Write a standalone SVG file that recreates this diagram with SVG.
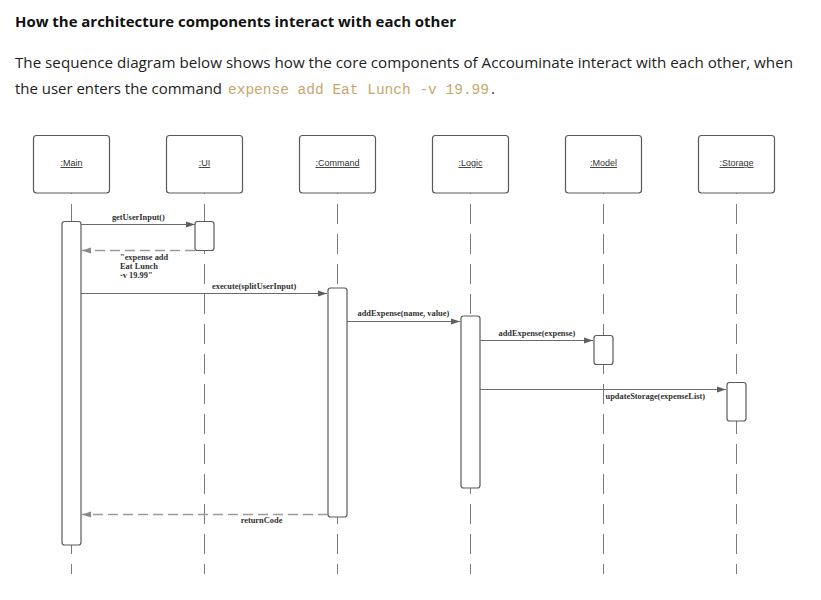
<svg xmlns="http://www.w3.org/2000/svg" width="821" height="600" viewBox="0 0 821 600">
<defs>
<style>
.h{font-family:"Open Sans","Liberation Sans",sans-serif;font-weight:bold;font-size:15px;fill:#111}
.p{font-family:"Open Sans","Liberation Sans",sans-serif;font-size:15px;fill:#222}
.code{font-family:"Liberation Mono",monospace;font-size:14.5px;fill:#c8a86e}
.box{fill:#fff;stroke:#5a5a5a;stroke-width:1.2}
.act{fill:#fff;stroke:#5a5a5a;stroke-width:1.2}
.bl{font-family:"Liberation Sans",Arial,sans-serif;font-size:9px;fill:#333;text-decoration:underline;text-anchor:middle}
.life{stroke:#7a7a7a;stroke-width:1;stroke-dasharray:20 10;stroke-dashoffset:10;fill:none}
.msg{stroke:#6b6b6b;stroke-width:1.2;fill:none}
.ret{stroke:#9a9a9a;stroke-width:1.6;stroke-dasharray:10 5;fill:none}
.ml{font-family:"Liberation Serif","Times New Roman",serif;font-weight:bold;font-size:8.4px;fill:#333}
</style>
<marker id="ah" markerWidth="10" markerHeight="8" refX="9" refY="4" orient="auto" markerUnits="userSpaceOnUse">
<path d="M0,1 L9,4 L0,7 Z" fill="#5f5f5f"/>
</marker>
<marker id="ahr" markerWidth="10" markerHeight="8" refX="9" refY="4" orient="auto" markerUnits="userSpaceOnUse">
<path d="M0,1 L9,4 L0,7 Z" fill="#8a8a8a"/>
</marker>
</defs>
<rect width="821" height="600" fill="#fff"/>
<text class="h" x="15" y="27" textLength="441" lengthAdjust="spacingAndGlyphs">How the architecture components interact with each other</text>
<text class="p" x="15" y="68" textLength="778" lengthAdjust="spacingAndGlyphs">The sequence diagram below shows how the core components of Accouminate interact with each other, when</text>
<text class="p" x="15" y="94" textLength="207" lengthAdjust="spacingAndGlyphs">the user enters the command</text>
<text class="code" x="228" y="94" textLength="261" lengthAdjust="spacingAndGlyphs">expense add Eat Lunch -v 19.99</text>
<text class="p" x="491" y="94">.</text>

<g id="lifelines">
<line class="life" x1="71.5" y1="574" x2="71.5" y2="193"/>
<line class="life" x1="204.5" y1="574" x2="204.5" y2="193"/>
<line class="life" x1="337.5" y1="574" x2="337.5" y2="193"/>
<line class="life" x1="470.5" y1="574" x2="470.5" y2="193"/>
<line class="life" x1="603.5" y1="574" x2="603.5" y2="193"/>
<line class="life" x1="736.5" y1="574" x2="736.5" y2="193"/>
</g>

<g id="main">
<rect class="box" x="33.5" y="135.5" width="76" height="57.5" rx="3"/>
<text class="bl" x="71.5" y="166">:Main</text>
<rect class="act" x="62" y="221.5" width="19" height="323.5" rx="2.5"/>
</g>
<g id="ui">
<rect class="box" x="166.5" y="135.5" width="76" height="57.5" rx="3"/>
<text class="bl" x="204.5" y="166">:UI</text>
<rect class="act" x="195" y="221.5" width="19" height="29" rx="2.5"/>
</g>
<g id="command">
<rect class="box" x="299.5" y="135.5" width="76" height="57.5" rx="3"/>
<text class="bl" x="337.5" y="166">:Command</text>
<rect class="act" x="328" y="288" width="19" height="229" rx="2.5"/>
</g>
<g id="logic">
<rect class="box" x="432.5" y="135.5" width="76" height="57.5" rx="3"/>
<text class="bl" x="470.5" y="166">:Logic</text>
<rect class="act" x="461" y="316" width="19" height="172" rx="2.5"/>
</g>
<g id="model">
<rect class="box" x="565.5" y="135.5" width="76" height="57.5" rx="3"/>
<text class="bl" x="603.5" y="166">:Model</text>
<rect class="act" x="594" y="335.5" width="19" height="29" rx="2.5"/>
</g>
<g id="storage">
<rect class="box" x="698.5" y="135.5" width="76" height="57.5" rx="3"/>
<text class="bl" x="736.5" y="166">:Storage</text>
<rect class="act" x="727" y="382.5" width="19" height="38.5" rx="2.5"/>
</g>

<g id="connectors">
<line class="msg" x1="81" y1="224.5" x2="195" y2="224.5" marker-end="url(#ah)"/>
<text class="ml" x="138.4" y="219.5" text-anchor="middle">getUserInput()</text>
<line class="ret" x1="195" y1="250.5" x2="82" y2="250.5" marker-end="url(#ahr)"/>
<text class="ml" x="120" y="259.5">"expense add</text>
<text class="ml" x="120" y="268.5">Eat Lunch</text>
<text class="ml" x="120" y="277.5">-v 19.99"</text>
<line class="msg" x1="81" y1="293.5" x2="327" y2="293.5" marker-end="url(#ah)"/>
<text class="ml" x="212" y="288.5">execute(splitUserInput)</text>
<line class="msg" x1="347" y1="321.5" x2="460" y2="321.5" marker-end="url(#ah)"/>
<text class="ml" x="357.5" y="316">addExpense(name, value)</text>
<line class="msg" x1="480" y1="340.5" x2="593" y2="340.5" marker-end="url(#ah)"/>
<text class="ml" x="498.5" y="336">addExpense(expense)</text>
<line class="msg" x1="480" y1="389.5" x2="726" y2="389.5" marker-end="url(#ah)"/>
<text class="ml" x="605.5" y="399">updateStorage(expenseList)</text>
<line class="ret" x1="328" y1="514.5" x2="82" y2="514.5" marker-end="url(#ahr)"/>
<text class="ml" x="261.5" y="523" text-anchor="middle">returnCode</text>
</g>
</svg>
